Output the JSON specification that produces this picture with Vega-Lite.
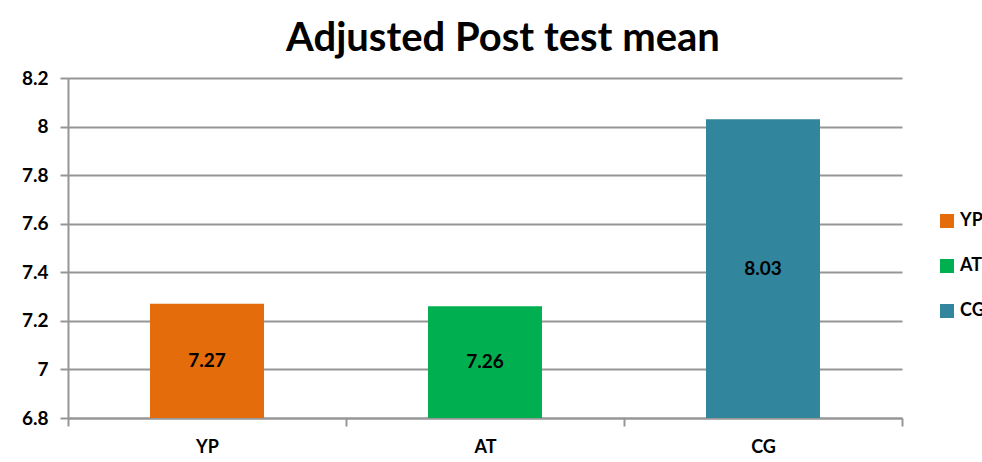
{
  "$schema": "https://vega.github.io/schema/vega-lite/v6.json",
  "width": 834,
  "height": 340,
  "autosize": "none",
  "padding": {"left": 68, "top": 78, "right": 80, "bottom": 44},
  "background": "white",
  "title": {
    "text": "Adjusted Post test mean",
    "font": "Lato",
    "fontSize": 40,
    "fontWeight": "bold",
    "color": "#000000",
    "anchor": "middle",
    "dx": 18,
    "offset": 10
  },
  "data": {
    "values": [
      {"group": "YP", "mean": 7.27},
      {"group": "AT", "mean": 7.26},
      {"group": "CG", "mean": 8.03}
    ]
  },
  "config": {
    "view": {"stroke": null},
    "font": "Lato"
  },
  "encoding": {
    "x": {
      "field": "group",
      "type": "nominal",
      "sort": ["YP", "AT", "CG"],
      "scale": {"paddingInner": 0, "paddingOuter": 0},
      "axis": {
        "title": null,
        "labelAngle": 0,
        "labelFont": "Lato",
        "labelFontSize": 18,
        "labelFontWeight": "bold",
        "labelColor": "#000000",
        "labelPadding": 12,
        "tickBand": "extent",
        "domainColor": "#969696",
        "domainWidth": 2,
        "tickColor": "#969696",
        "tickWidth": 2,
        "tickSize": 8,
        "grid": false
      }
    }
  },
  "layer": [
    {
      "mark": {"type": "bar", "clip": true, "width": {"band": 0.41}},
      "encoding": {
        "y": {
          "field": "mean",
          "type": "quantitative",
          "scale": {"domain": [6.8, 8.2], "zero": false, "nice": false},
          "axis": {
            "title": null,
            "values": [6.8, 7, 7.2, 7.4, 7.6, 7.8, 8, 8.2],
            "format": "~g",
            "labelFont": "Lato",
            "labelFontSize": 19,
            "labelFontWeight": "bold",
            "labelColor": "#000000",
            "labelPadding": 12,
            "domainColor": "#969696",
            "domainWidth": 2,
            "tickColor": "#969696",
            "tickWidth": 2,
            "tickSize": 8,
            "grid": true,
            "gridColor": "#969696",
            "gridWidth": 2
          }
        },
        "y2": {"datum": 6.8},
        "color": {
          "field": "group",
          "type": "nominal",
          "sort": ["YP", "AT", "CG"],
          "scale": {"domain": ["YP", "AT", "CG"], "range": ["#E46C0A", "#00B050", "#31859C"]},
          "legend": {
            "title": null,
            "orient": "none",
            "legendX": 870,
            "legendY": 134,
            "symbolType": "square",
            "symbolSize": 196,
            "symbolStrokeWidth": 0,
            "symbolOpacity": 1,
            "labelFont": "Lato",
            "labelFontSize": 18,
            "labelFontWeight": "bold",
            "labelColor": "#000000",
            "labelOffset": 4,
            "rowPadding": 27
          }
        }
      }
    },
    {
      "transform": [{"calculate": "(datum.mean + 6.8) / 2", "as": "mid"}],
      "mark": {"type": "text", "font": "Lato", "fontSize": 19, "fontWeight": "bold", "color": "#000000"},
      "encoding": {
        "y": {"field": "mid", "type": "quantitative"},
        "text": {"field": "mean", "type": "quantitative", "format": ".2f"}
      }
    }
  ]
}
